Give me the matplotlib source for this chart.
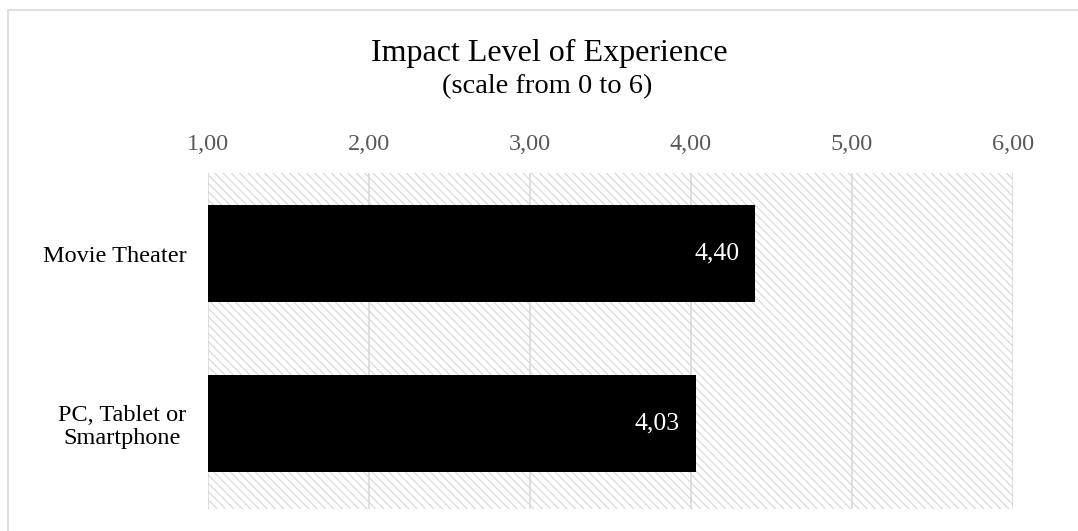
import matplotlib.pyplot as plt
from matplotlib.patches import Rectangle
from matplotlib.ticker import FuncFormatter
from matplotlib.transforms import ScaledTranslation

categories = ["Movie Theater", "PC, Tablet or\nSmartphone"]
values = [4.40, 4.03]
xticks = [1, 2, 3, 4, 5, 6]

plt.rcParams['font.family'] = ['Liberation Serif', 'DejaVu Serif']
plt.rcParams['hatch.color'] = '#d9d9d9'
plt.rcParams['hatch.linewidth'] = 0.9

fig = plt.figure(figsize=(10.78, 5.31), dpi=100)
W, H = 1078, 531
ax = fig.add_axes([208 / W, 1 - 509 / H, (1013 - 208) / W, (509 - 173) / H])

# border around chart
fig.patches.append(Rectangle((8 / W, -0.05), 1.1, 1 - 10 / H + 0.05, transform=fig.transFigure,
                             fill=False, edgecolor='#d9d9d9', linewidth=1.2))

# hatched background
ax.patch.set_facecolor('white')
ax.add_patch(Rectangle((0, 0), 1, 1, transform=ax.transAxes, facecolor='white',
                       edgecolor='#d9d9d9', hatch='\\\\\\\\', linewidth=0, zorder=0))

ypos = list(range(len(categories)))
ax.barh(ypos, [v - 1 for v in values], left=1, height=0.57, color='black', zorder=3)
for y, v in zip(ypos, values):
    ax.text(v - 0.1, y, f"{v:.2f}".replace('.', ','), ha='right', va='center',
            color='white', fontsize=18.5, zorder=4)

ax.set_xlim(1, 6)
ax.set_ylim(1.504, -0.476)
ax.set_xticks(xticks)
ax.xaxis.set_major_formatter(FuncFormatter(lambda x, p: f"{x:.2f}".replace('.', ',')))
ax.xaxis.tick_top()
ax.tick_params(axis='x', length=0, pad=13, labelsize=17.5, labelcolor='#595959')
ax.set_yticks(ypos)
ax.set_yticklabels(categories, fontsize=17.5, ha='center', linespacing=1.12)
ax.tick_params(axis='y', length=0, pad=67)
lbls = ax.get_yticklabels()
lbls[1].set_transform(lbls[1].get_transform() + ScaledTranslation(7 / 100, 0, fig.dpi_scale_trans))
ax.grid(axis='x', color='#d9d9d9', linewidth=1.2, zorder=1)
ax.set_axisbelow(True)
for s in ax.spines.values():
    s.set_visible(False)

fig.text(549 / W, 1 - 53 / H, "Impact Level of Experience", ha='center', va='center', fontsize=23)
fig.text(547 / W, 1 - 87 / H, "(scale from 0 to 6)", ha='center', va='center', fontsize=20.5)

fig.savefig('out.png', dpi=100)
